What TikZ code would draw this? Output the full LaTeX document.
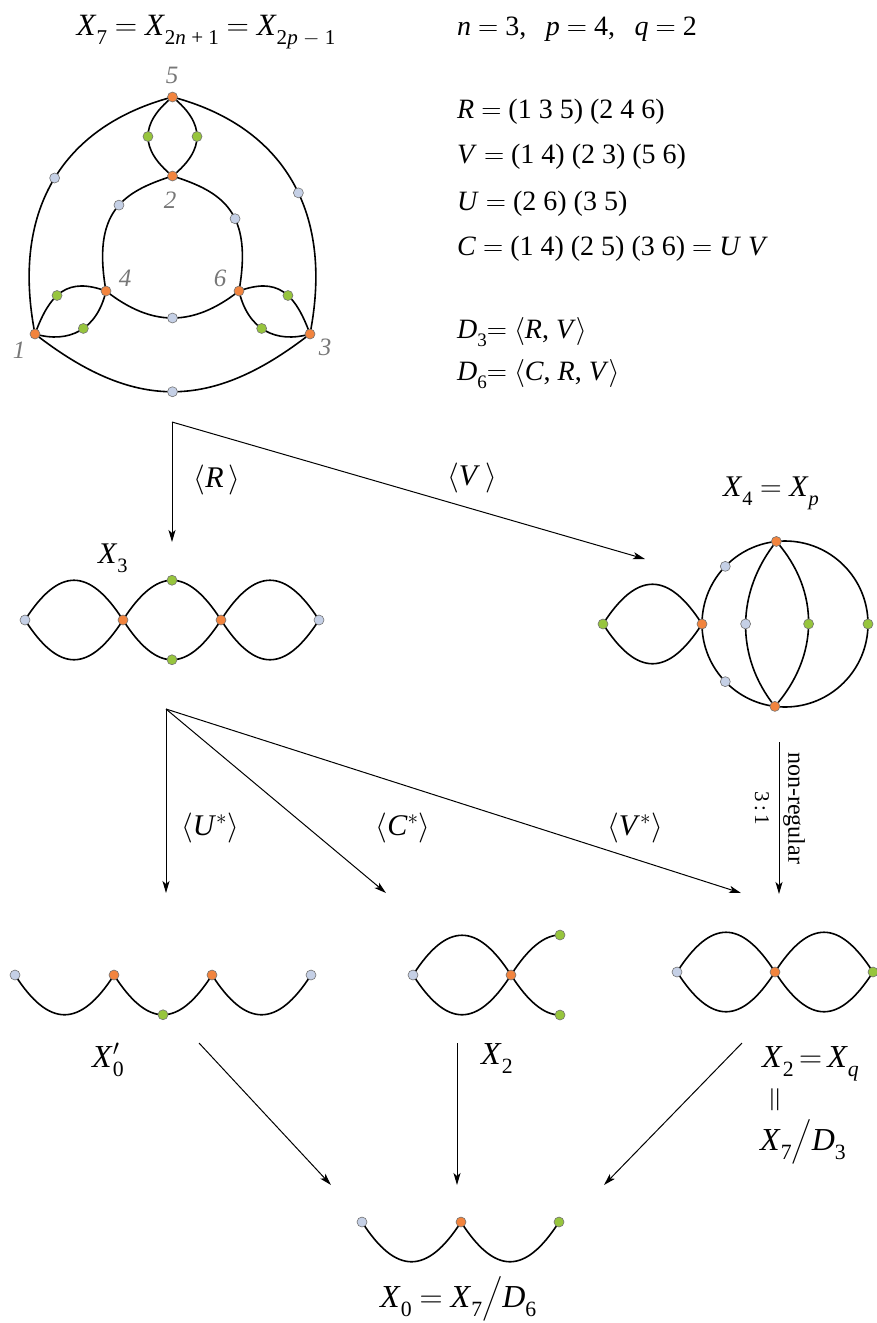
\RequirePackage{fix-cm}
\documentclass[tikz,border=0pt]{standalone}
\usepackage{amsmath}
\usepackage{fontspec}
\setmainfont{Liberation Serif}
\usetikzlibrary{arrows.meta}
\definecolor{dorange}{HTML}{F2843E}
\definecolor{dgreen}{HTML}{97C53D}
\definecolor{dblue}{HTML}{C5D0E6}
\definecolor{labgray}{HTML}{777777}
\newcommand{\mi}[1]{\textit{#1}}
\newcommand{\sbs}[1]{\raisebox{-0.3em}{\scalebox{0.68}{#1}}}
\newcommand{\eqs}{\ $=$\ }
\tikzset{
  edgeline/.style={line width=1.6pt, line cap=round},
  arr/.style={line width=1pt, -{Stealth[length=12pt,width=7pt,inset=3pt]}},
  vdot/.style={circle, inner sep=0pt, minimum size=10pt, draw=black!55, line width=0.6pt},
  od/.style={vdot, fill=dorange},
  gd/.style={vdot, fill=dgreen},
  bd/.style={vdot, fill=dblue},
  vlab/.style={font=\fontsize{25}{30}\selectfont\itshape, text=labgray},
  txt/.style={font=\fontsize{28}{34}\selectfont, anchor=base west, inner sep=0pt},
  lab/.style={font=\fontsize{30}{36}\selectfont, inner sep=0pt},
  blab/.style={font=\fontsize{32}{38}\selectfont, inner sep=0pt, anchor=base west},
}
\begin{document}
\begin{tikzpicture}[x=1pt,y=1pt]
\useasboundingbox (0,0) rectangle (877,-1323);

% ---------------- X7 ----------------
\coordinate (v5) at (172.5,-97);
\coordinate (v2) at (172.5,-176);
\coordinate (v4) at (106,-291);
\coordinate (v6) at (239,-291);
\coordinate (v1) at (35,-334);
\coordinate (v3) at (310,-334);

\draw[edgeline] (v5) .. controls (66.5,-125) and (10,-206) .. (v1) node[bd,pos=0.5] (o1) {};
\draw[edgeline] (v5) .. controls (278.5,-125) and (335,-206) .. (v3) node[bd,pos=0.56] (o2) {};
\draw[edgeline] (v1) .. controls (134,-411) and (211,-411) .. (v3) node[bd,pos=0.5] (o3) {};

\draw[edgeline] (v2) .. controls (122,-192) and (92.1,-212.2) .. (v4) node[bd,pos=0.45] (i1) {};
\draw[edgeline] (v6) .. controls (252.9,-212.2) and (223,-192) .. (v2) node[bd,pos=0.42] (i2) {};
\draw[edgeline] (v4) .. controls (152,-327) and (193,-327) .. (v6) node[bd,pos=0.5] (i3) {};

\draw[edgeline] (v5) .. controls (139.8,-123.5) and (139.8,-149.5) .. (v2) node[gd,pos=0.5] (l1) {};
\draw[edgeline] (v5) .. controls (205.2,-123.5) and (205.2,-149.5) .. (v2) node[gd,pos=0.5] (l2) {};
\draw[edgeline] (v1) .. controls (50.4,-291.7) and (68.4,-277.3) .. (v4) node[gd,pos=0.42] (l3) {};
\draw[edgeline] (v1) .. controls (68.6,-343.7) and (97,-330) .. (v4) node[gd,pos=0.55] (l4) {};
\draw[edgeline] (v3) .. controls (294.6,-291.7) and (276.6,-277.3) .. (v6) node[gd,pos=0.42] (l5) {};
\draw[edgeline] (v3) .. controls (276.4,-343.7) and (248,-330) .. (v6) node[gd,pos=0.55] (l6) {};

\foreach \v in {1,...,6} { \node[od] (d\v) at (v\v) {}; }

\node[vlab] (n5) at (172,-75) {5};
\node[vlab] (n2) at (170,-200) {2};
\node[vlab] (n4) at (125,-278) {4};
\node[vlab] (n6) at (220,-278) {6};
\node[vlab] (n1) at (19,-350) {1};
\node[vlab] (n3) at (325,-347) {3};

\node[lab, anchor=base, font=\fontsize{31}{36}\selectfont] (title) at (206,-35)
  {\mi{X}\sbs{7}\eqs\mi{X}\sbs{2\mi{n} + 1}\eqs\mi{X}\sbs{2\mi{p} $-$ 1}};

% ---------------- right text ----------------
\node[txt] (t1) at (457,-35) {\mi{n}\eqs3,\hspace{0.7em}\mi{p}\eqs4,\hspace{0.7em}\mi{q}\eqs2};
\node[txt] (t2) at (457,-118) {\mi{R}\eqs(1 3 5) (2 4 6)};
\node[txt] (t3) at (457,-163) {\mi{V}\eqs(1 4) (2 3) (5 6)};
\node[txt] (t4) at (457,-210) {\mi{U}\eqs(2 6) (3 5)};
\node[txt] (t5) at (457,-255) {\mi{C}\eqs(1 4) (2 5) (3 6)\eqs\mi{U} \mi{V}};
\node[txt] (t6) at (457,-338) {\mi{D}\sbs{3}$=$ $\langle$\mi{R}, \mi{V}$\rangle$};
\node[txt] (t7) at (457,-380) {\mi{D}\sbs{6}$=$ $\langle$\mi{C}, \mi{R}, \mi{V}$\rangle$};

% ---------------- first arrows ----------------
\coordinate (s1) at (172,-422);
\coordinate (e1) at (172,-542);
\coordinate (e2) at (645,-559);
\draw[arr] (s1) -- (e1);
\draw[arr] (s1) -- (e2);
\node[lab] (aR) at (217,-480) {$\langle$\mi{R}\,$\rangle$};
\node[lab] (aV) at (472,-478) {$\langle$\mi{V}\,$\rangle$};

% ---------------- X3 ----------------
\node[lab, anchor=base west] (x3lab) at (98,-563) {\mi{X}\sbs{3}};
\coordinate (a1) at (25,-620);
\coordinate (a2) at (123,-620);
\coordinate (a3) at (221,-620);
\coordinate (a4) at (319,-620);
\draw[edgeline] (a1) .. controls +(34,53) and +(-34,53) .. (a2);
\draw[edgeline] (a1) .. controls +(34,-53) and +(-34,-53) .. (a2);
\draw[edgeline] (a2) .. controls +(34,53) and +(-34,53) .. (a3) node[gd,pos=0.5] (ag1) {};
\draw[edgeline] (a2) .. controls +(34,-53) and +(-34,-53) .. (a3) node[gd,pos=0.5] (ag2) {};
\draw[edgeline] (a3) .. controls +(34,53) and +(-34,53) .. (a4);
\draw[edgeline] (a3) .. controls +(34,-53) and +(-34,-53) .. (a4);
\node[bd] (da1) at (a1) {};
\node[od] (da2) at (a2) {};
\node[od] (da3) at (a3) {};
\node[bd] (da4) at (a4) {};

% ---------------- X4 ----------------
\node[lab, anchor=base west] (x4lab) at (723,-496) {\mi{X}\sbs{4}\eqs\mi{X}\sbs{\mi{p}}};
\coordinate (c4) at (785,-624);
\path (c4) ++(96:83) coordinate (x4t);
\path (c4) ++(263:83) coordinate (x4b);
\path (c4) ++(180:83) coordinate (x4l);
\path (c4) ++(0:83) coordinate (x4r);
\coordinate (x4g) at (603,-624);
\draw[edgeline] (c4) circle[radius=83];
\draw[edgeline] (x4g) .. controls +(34,53) and +(-34,53) .. (x4l);
\draw[edgeline] (x4g) .. controls +(34,-53) and +(-34,-53) .. (x4l);
\draw[edgeline] (x4t) .. controls +(-40,-50) and +(-40,50) .. (x4b) node[bd,pos=0.5] (x4i1) {};
\draw[edgeline] (x4t) .. controls +(44,-50) and +(44,50) .. (x4b) node[gd,pos=0.5] (x4i2) {};
\path (c4) ++(136:83) node[bd] (x4c1) {};
\path (c4) ++(224:83) node[bd] (x4c2) {};
\node[gd] (dx4g) at (x4g) {};
\node[od] (dx4l) at (x4l) {};
\node[gd] (dx4r) at (x4r) {};
\node[od] (dx4t) at (x4t) {};
\node[od] (dx4b) at (x4b) {};

% ---------------- second arrows ----------------
\coordinate (s2) at (166,-709);
\coordinate (f1) at (166,-893);
\coordinate (f2) at (386,-893);
\coordinate (f3) at (741,-893);
\draw[arr] (s2) -- (f1);
\draw[arr] (s2) -- (f2);
\draw[arr] (s2) -- (f3);
\node[lab] (aU) at (210,-828) {$\langle$\mi{U}$^{*}\rangle$};
\node[lab] (aC) at (403,-828) {$\langle$\mi{C}$^{*}\rangle$};
\node[lab] (aVs) at (635,-828) {$\langle$\mi{V}$^{*}\rangle$};
\coordinate (nrs) at (779,-742);
\coordinate (nre) at (779,-894);
\draw[arr] (nrs) -- (nre);
\node[font=\fontsize{24}{28}\selectfont, rotate=-90, inner sep=0pt] (nrl) at (794,-808) {non-regular};
\node[font=\fontsize{21}{24}\selectfont, rotate=-90, inner sep=0pt] (nrr) at (762,-808) {3\,:\,1};

% ---------------- X0' ----------------
\coordinate (p1) at (15,-975);
\coordinate (p2) at (114,-975);
\coordinate (p3) at (212,-975);
\coordinate (p4) at (311,-975);
\draw[edgeline] (p1) .. controls +(34,-53) and +(-34,-53) .. (p2);
\draw[edgeline] (p2) .. controls +(34,-53) and +(-34,-53) .. (p3) node[gd,pos=0.5] (pg) {};
\draw[edgeline] (p3) .. controls +(34,-53) and +(-34,-53) .. (p4);
\node[bd] (dp1) at (p1) {};
\node[od] (dp2) at (p2) {};
\node[od] (dp3) at (p3) {};
\node[bd] (dp4) at (p4) {};
\node[blab] (x0plab) at (92,-1067) {\mi{X}\makebox[0pt][l]{$'$}\sbs{0}};

% ---------------- X2 (middle) ----------------
\coordinate (q1) at (413,-975);
\coordinate (q2) at (511,-975);
\coordinate (q3) at (560,-935);
\coordinate (q4) at (560,-1015);
\draw[edgeline] (q1) .. controls +(34,53) and +(-34,53) .. (q2);
\draw[edgeline] (q1) .. controls +(34,-53) and +(-34,-53) .. (q2);
\draw[edgeline] (q2) .. controls +(17,26.5) and +(-16,0) .. (q3);
\draw[edgeline] (q2) .. controls +(17,-26.5) and +(-16,0) .. (q4);
\node[bd] (dq1) at (q1) {};
\node[od] (dq2) at (q2) {};
\node[gd] (dq3) at (q3) {};
\node[gd] (dq4) at (q4) {};
\node[blab] (x2lab) at (481,-1064) {\mi{X}\sbs{2}};

% ---------------- X2 (right) ----------------
\coordinate (r1) at (677,-972);
\coordinate (r2) at (775,-972);
\coordinate (r3) at (873,-972);
\draw[edgeline] (r1) .. controls +(34,53) and +(-34,53) .. (r2);
\draw[edgeline] (r1) .. controls +(34,-53) and +(-34,-53) .. (r2);
\draw[edgeline] (r2) .. controls +(34,53) and +(-34,53) .. (r3);
\draw[edgeline] (r2) .. controls +(34,-53) and +(-34,-53) .. (r3);
\node[bd] (dr1) at (r1) {};
\node[od] (dr2) at (r2) {};
\node[gd] (dr3) at (r3) {};
\node[blab] (x2qlab) at (762,-1067) {\mi{X}\sbs{2}\,$=$\,\mi{X}\sbs{\mi{q}}};
\node[font=\fontsize{24}{26}\selectfont, inner sep=0pt] (eqv) at (775,-1100) {\textbar\kern1pt\textbar};
\node[blab] (x73lab) at (760,-1150) {\mi{X}\sbs{7}$\big/$\mi{D}\sbs{3}};

% ---------------- third arrows ----------------
\coordinate (g1) at (199,-1043);
\coordinate (h1) at (331,-1185);
\coordinate (g2) at (457,-1043);
\coordinate (h2) at (457,-1185);
\coordinate (g3) at (742,-1043);
\coordinate (h3) at (604,-1185);
\draw[arr] (g1) -- (h1);
\draw[arr] (g2) -- (h2);
\draw[arr] (g3) -- (h3);

% ---------------- X0 ----------------
\coordinate (t1c) at (362,-1222);
\coordinate (t2c) at (461,-1222);
\coordinate (t3c) at (559,-1222);
\draw[edgeline] (t1c) .. controls +(34,-53) and +(-34,-53) .. (t2c);
\draw[edgeline] (t2c) .. controls +(34,-53) and +(-34,-53) .. (t3c);
\node[bd] (dt1) at (t1c) {};
\node[od] (dt2) at (t2c) {};
\node[gd] (dt3) at (t3c) {};
\node[blab] (x0lab) at (380,-1307) {\mi{X}\sbs{0}\eqs\mi{X}\sbs{7}$\big/$\mi{D}\sbs{6}};
\end{tikzpicture}
\end{document}
